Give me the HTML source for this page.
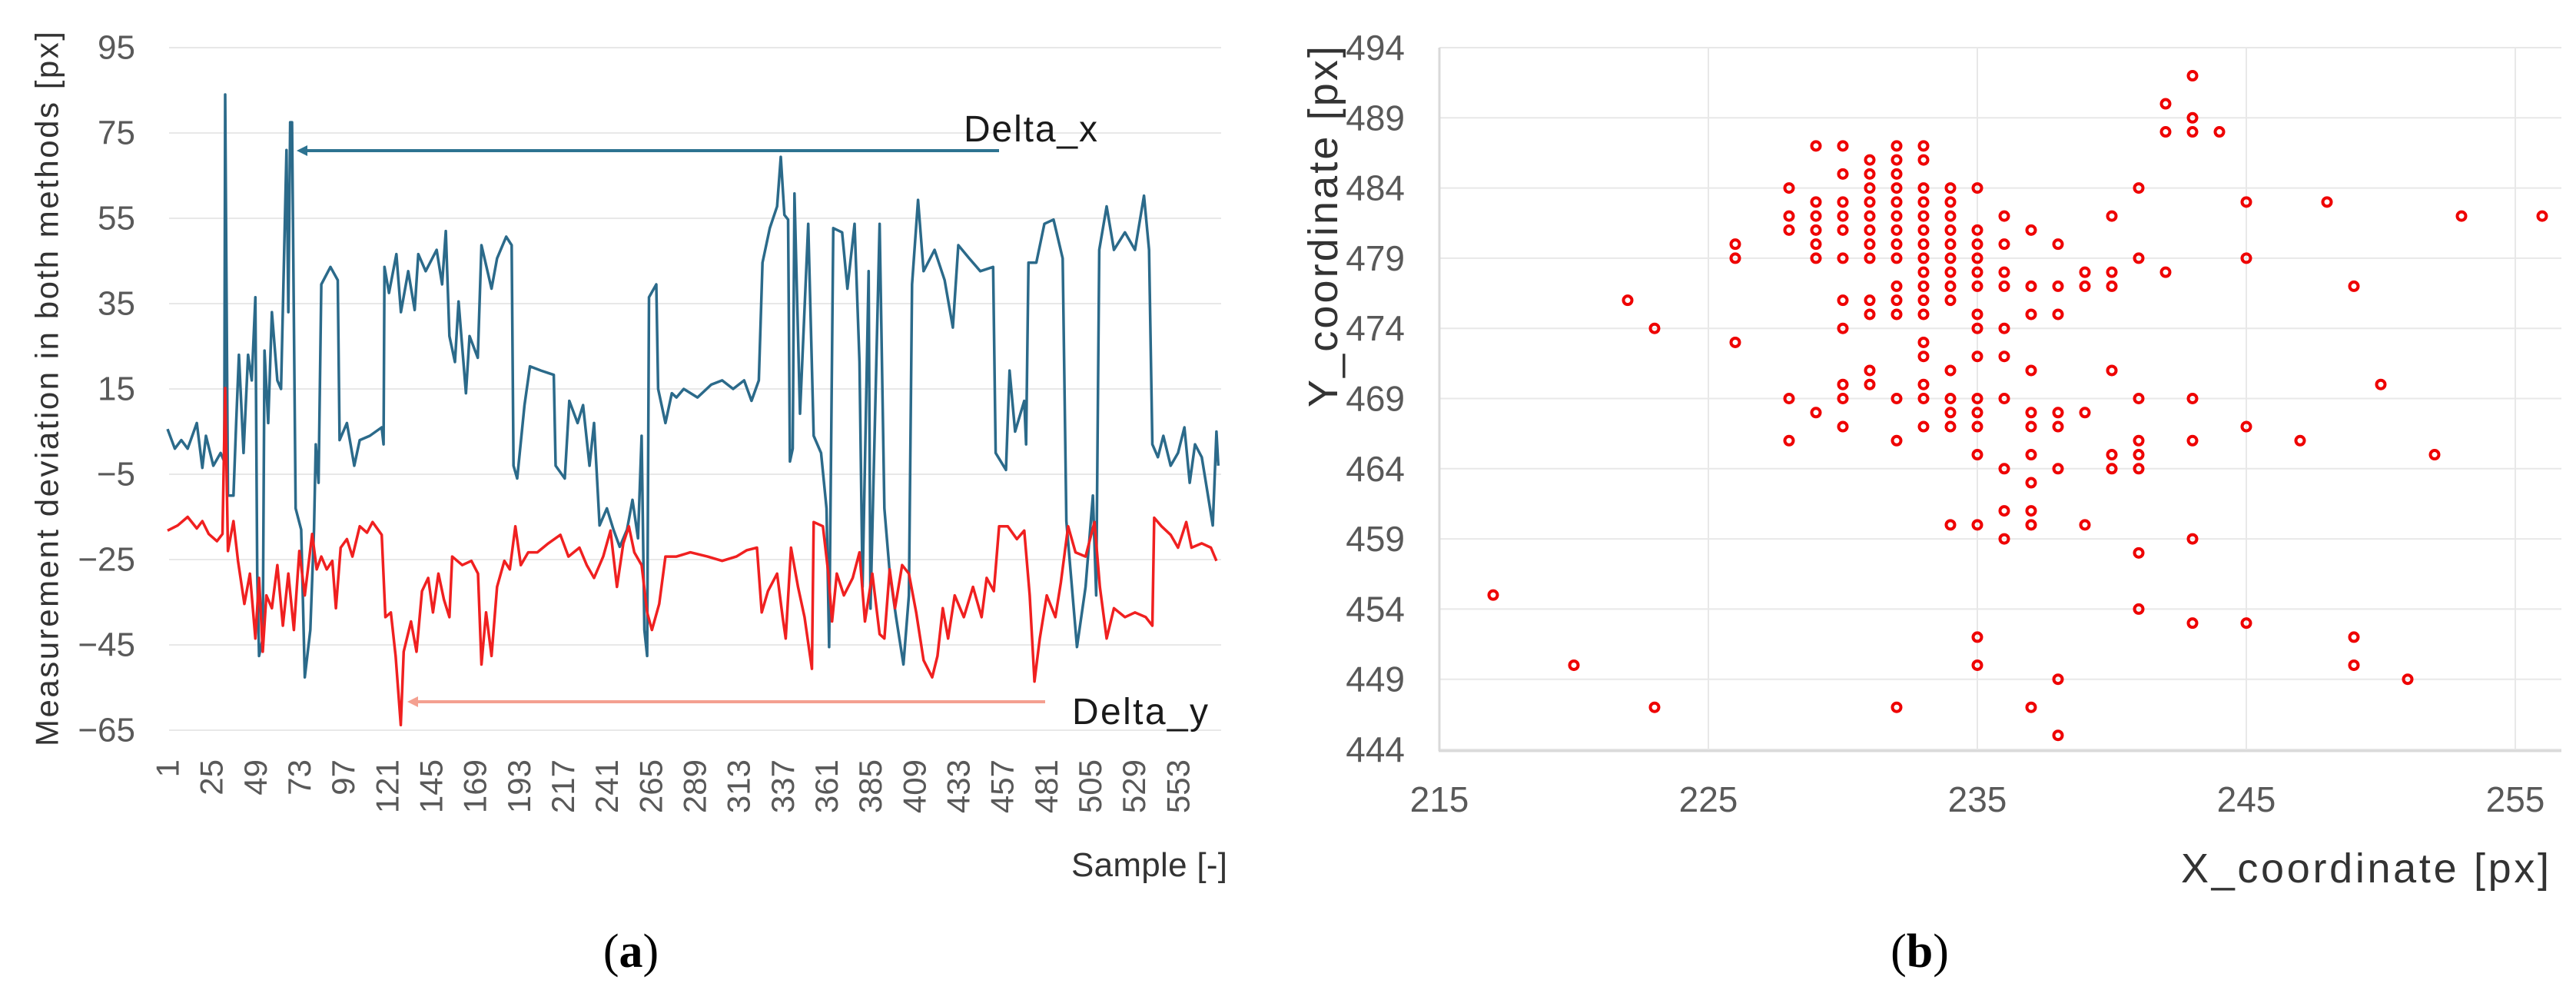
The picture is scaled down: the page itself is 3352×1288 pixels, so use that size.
<!DOCTYPE html>
<html><head><meta charset="utf-8"><style>
html,body{margin:0;padding:0;background:#fff;}
svg{display:block;font-family:"Liberation Sans",sans-serif;}
</style></head><body>
<svg id="fig" width="3352" height="1288" viewBox="0 0 3352 1288">
<g id="left"></g>
<g id="right"></g>
<text x="821" y="1258" font-family="Liberation Serif,serif" font-size="62" text-anchor="middle" fill="#000">(<tspan font-weight="bold">a</tspan>)</text>
<text x="2498" y="1258" font-family="Liberation Serif,serif" font-size="62" text-anchor="middle" fill="#000">(<tspan font-weight="bold">b</tspan>)</text>
</svg>
<script>
// ---- Left chart data ----
const yTicksL = [95, 75, 55, 35, 15, -5, -25, -45, -65];
const xTickLabels = [1,25,49,73,97,121,145,169,193,217,241,265,289,313,337,361,385,409,433,457,481,505,529,553];
const dxSamples = [1,5,8.5,12,17,20,22,26,30,32,32.5,34,37,38.5,40,42.5,45,47,49,50,51,53,54,56,58,61,63,66,67,68,69,71,74,76,79,81,82,83.5,85,90,94,95,99,103,106,111.5,118,119,119.5,122,126,128.5,132.5,136,138,142,148,151,153,155,158,160,164,166,170.5,172.5,178,181,186,189,190,192,196,199,205,212,213,218,220.5,225,228,231.5,234,237,241,244.6,248,252,255,258,260,261.5,263,264,268,269,273,276.5,279,283,290.5,298,304,310,316,320,324,326,330,334,336,338,340,341,342.5,343.5,346.5,351,354,358,361,362.4,364.7,369.5,372.4,376.3,379,380.7,384,385,390,392.6,395.5,399,403,406,407.7,411,414,420,425.5,430,433,439,445,452,453.4,459,461,464,469,470,471.3,475.6,480,485,490,492,497.8,502.5,506.5,508.3,510,514,518,524,529.5,534.4,537.2,539,542,545,549,553,556.5,559.4,562.3,566,569,572,574,575];
const dxValues = [5.6,1,3,1,7,-3.5,4,-3,0,-2,84,-10,-10,7,23,0,23,17,36.5,-28,-47.6,-43.5,24,7,33,17,15,71,33,77.5,77.5,-13,-18,-52.6,-41.5,-18,2,-7,39.5,43.6,40.5,3,7,-3,3,4,6,2,43.6,37.5,46.6,33,42.6,33.5,46.6,42.6,47.6,39.5,52,27.4,21.3,35.5,14,27.4,22.3,48.7,38.5,45.6,50.7,48.7,-3,-6,11.2,20.3,19.3,18.3,-3,-6,12.2,7,11.2,-3,7,-17,-13,-18,-22,-18,-11,-20,4,-41.5,-47.6,36.5,39.5,15,7,14,13,15,13,16,17,15,17,12.2,17,44.6,52.7,57.8,69.4,55.8,54.7,-2,1,60.8,9.2,53.7,4,0,-13,-45.5,52.7,51.7,38.5,53.7,21.3,-31.4,42.6,-36.5,53.7,-13,-28,-38.5,-49.6,-33.4,39.5,59.3,42.6,47.6,40.5,29.4,48.7,45.6,42.6,43.6,0,-4,19.3,5,12.2,2,44.6,44.6,53.7,54.7,45.6,-16,-45.5,-31.4,-10,-33.4,47.6,57.8,47.6,51.7,47.6,60.3,47.6,2,-1,4,-3,0,6,-7,2,-1,-9,-17,5,-3];
const dySamples = [1,6.6,12,17,20,23.5,28,31,32.5,34,37,39.5,43,46,49,51,53,55,58,61,64,67,70,73,76,80,82.5,85,88,91,93,95.6,99,102,106,110,113,118,120,123,125.6,128.4,130,134,137,140,143.4,146,149,152,155,156.5,162,167,170.6,172.5,175,178,181,185,188,191,194,198,203,209,215.6,220,226,230,234,239,243,246.5,250,253,256,260,263,265.6,269.6,273,279,286.6,296,304,311.7,317.5,323,325.6,329,334,337,338.7,341.6,345.4,349,353,354,359,362,364,366.6,370.5,375.3,379,382,386,390,392.6,395.5,398.4,402.3,406,410,414,418.7,421.6,424.5,427.4,431,436,441,445.7,448.5,452.4,455.3,460,465,469,472,474.6,477.5,481.3,486,489,493,497,502.5,507.4,510.3,514,518,524,529.5,535.4,539,540,544,549,553,557.5,560.4,566,571,574];
const dyValues = [-18.2,-17,-15,-17.7,-16,-19,-20.7,-19,15.2,-23,-16,-25.3,-35.4,-28.3,-43.5,-29.3,-46.6,-33.4,-36.4,-26.3,-40.5,-28.3,-41.5,-23,-33.4,-19,-27.3,-24.3,-27.3,-25.3,-36.4,-22.2,-20.2,-24.3,-17.2,-18.7,-16.2,-19.2,-38.5,-37.4,-47.6,-63.8,-46.6,-39.5,-46.6,-32.4,-29.3,-37.4,-28.3,-34.4,-38.5,-24.3,-26.3,-25.3,-28.3,-49.6,-37.4,-47.6,-31.4,-25.3,-27.3,-17.2,-26.3,-23.3,-23.3,-21.2,-19.2,-24.3,-22.2,-26.3,-29.3,-24.3,-18.2,-31.4,-21.2,-17.2,-23.3,-26.3,-37.4,-41.5,-35.4,-24.3,-24.3,-23.3,-24.3,-25.3,-24.3,-22.8,-22.2,-37.4,-32.4,-28.3,-38.5,-43.5,-22.2,-31.4,-38.5,-50.6,-16.2,-17.2,-28.3,-39.5,-28.3,-33.4,-29.3,-23.3,-39.5,-28.3,-42.5,-43.5,-27.3,-36.4,-26.3,-28.3,-37.4,-48.6,-52.6,-47.6,-36.4,-43.5,-33.4,-38.5,-31.4,-38.5,-29.3,-32.4,-17.2,-17.2,-20.2,-18.2,-33.4,-53.6,-43.5,-33.4,-38.5,-30.4,-17.2,-23.3,-24.3,-16.2,-31.4,-43.5,-36.4,-38.5,-37.4,-38.5,-40.5,-15.2,-17.2,-19.2,-22.2,-16.2,-22.2,-21.2,-22.2,-25.3];

// ---- Right chart data ----
const xTicksR = [215, 225, 235, 245, 255];
const yTicksR = [494, 489, 484, 479, 474, 469, 464, 459, 454, 449, 444];
const ptX = [217,220,222,223,223,226,226,226,228,228,228,228,228,229,229,229,229,229,229,229,
230,230,230,230,230,230,230,230,230,230,230,
231,231,231,231,231,231,231,231,231,231,231,231,
232,232,232,232,232,232,232,232,232,232,232,232,232,232,232,
233,233,233,233,233,233,233,233,233,233,233,233,233,233,233,233,233,
234,234,234,234,234,234,234,234,234,234,234,234,234,234,
235,235,235,235,235,235,235,235,235,235,235,235,235,235,235,235,
236,236,236,236,236,236,236,236,236,236,
237,237,237,237,237,237,237,237,237,237,237,
238,238,238,238,238,238,238,238,
239,239,239,239,240,240,240,240,240,240,
241,241,241,241,241,241,241,241,242,242,242,
243,243,243,243,243,243,243,244,245,245,245,245,247,248,249,249,249,250,251,252,253,256];
const ptY = [455,450,476,474,447,480,479,473,484,482,481,469,466,487,483,482,481,480,479,468,
487,485,483,482,481,479,476,474,470,469,467,
486,485,484,483,482,481,480,479,476,475,471,470,
487,486,485,484,483,482,481,480,479,477,476,475,469,466,447,
487,486,484,483,482,481,480,479,478,477,476,475,473,472,470,469,467,
484,483,482,481,480,479,478,477,476,471,469,468,467,460,
484,481,480,479,478,477,475,474,472,469,468,467,465,460,452,450,
482,480,478,477,474,472,469,464,461,459,
481,477,475,471,468,467,465,463,461,460,447,
480,477,475,468,467,464,449,445,
478,477,468,460,482,478,477,471,465,464,
484,479,469,466,465,464,458,454,490,488,478,
492,489,488,469,466,459,453,488,483,479,467,453,466,483,477,452,450,470,449,465,482,482];

const NS = 'http://www.w3.org/2000/svg';
function mk(tag, attrs, parent, txt) {
  const e = document.createElementNS(NS, tag);
  for (const k in attrs) e.setAttribute(k, attrs[k]);
  if (txt !== undefined) e.textContent = txt;
  parent.appendChild(e);
  return e;
}

// ===== Left chart =====
const L = document.getElementById('left');
const xL = s => 218 + (s - 1) * 2.382;
const yL = v => 62 + (95 - v) * 5.55;
yTicksL.forEach(v => {
  const g = mk('line', {x1: 220, x2: 1589, y1: yL(v), y2: yL(v), stroke: '#e8e8e8', 'stroke-width': 2}, L);
  
  
  const t = mk('text', {x: 176, y: yL(v), 'text-anchor': 'end', 'dominant-baseline': 'central', 'font-size': 44, fill: '#595959'}, L, v < 0 ? '\u2212' + Math.abs(v) : String(v));
  
  
});
xTickLabels.forEach(s => {
  const t = mk('text', {x: 0, y: 0, 'text-anchor': 'end', 'dominant-baseline': 'central', 'font-size': 42, fill: '#595959', transform: 'translate(' + xL(s) + ',988) rotate(-90)'}, L, String(s));
  
  
});
function linePath(xs, vs) {
  return xs.map((s, i) => (i ? 'L' : 'M') + xL(s).toFixed(1) + ',' + yL(vs[i]).toFixed(1)).join('');
}
const pb = mk('path', {d: linePath(dxSamples, dxValues), fill: 'none', stroke: '#2b6a8a', 'stroke-width': 3.5, 'stroke-linejoin': 'round'}, L);


const pr = mk('path', {d: linePath(dySamples, dyValues), fill: 'none', stroke: '#f02020', 'stroke-width': 3.5, 'stroke-linejoin': 'round'}, L);



// annotation arrows
const a1 = mk('line', {x1: 1300, y1: 196, x2: 392, y2: 196, stroke: '#2d7391', 'stroke-width': 4}, L);


const h1 = mk('path', {d: 'M386,196 L400,189 L400,203 Z', fill: '#2d7391'}, L);


const a2 = mk('line', {x1: 1360, y1: 913, x2: 536, y2: 913, stroke: '#f4a090', 'stroke-width': 4}, L);


const h2 = mk('path', {d: 'M530,913 L544,906 L544,920 Z', fill: '#f4a090'}, L);


const tdx = mk('text', {x: 1254, y: 184, 'font-size': 48, fill: '#1a1a1a', textLength: 174}, L, 'Delta_x');


const tdy = mk('text', {x: 1395, y: 942, 'font-size': 48, fill: '#1a1a1a', textLength: 177}, L, 'Delta_y');


const ytl = mk('text', {x: 0, y: 0, 'text-anchor': 'middle', 'dominant-baseline': 'central', 'font-size': 42, fill: '#333', textLength: 930, transform: 'translate(61,506) rotate(-90)'}, L, 'Measurement deviation in both methods [px]');


const xtl = mk('text', {x: 1394, y: 1140, 'font-size': 44, fill: '#333', textLength: 203}, L, 'Sample [-]');



// ===== Right chart =====
const R = document.getElementById('right');
const xR = v => 1873 + (v - 215) * 35;
const yR = v => 62 + (494 - v) * 18.26;
xTicksR.forEach(v => {
  const g = mk('line', {x1: xR(v), x2: xR(v), y1: 62, y2: 977, stroke: '#e8e8e8', 'stroke-width': 2}, R);
  
  
  const t = mk('text', {x: xR(v), y: 1040, 'text-anchor': 'middle', 'dominant-baseline': 'central', 'font-size': 46, fill: '#595959'}, R, String(v));
  
  
});
yTicksR.forEach(v => {
  const g = mk('line', {x1: 1873, x2: 3333, y1: yR(v), y2: yR(v), stroke: '#e8e8e8', 'stroke-width': 2}, R);
  
  
  const t = mk('text', {x: 1828, y: yR(v), 'text-anchor': 'end', 'dominant-baseline': 'central', 'font-size': 46, fill: '#595959'}, R, String(v));
  
  
});
const ax1 = mk('line', {x1: 1873, x2: 1873, y1: 62, y2: 977, stroke: '#d9d9d9', 'stroke-width': 3}, R);


const ax2 = mk('line', {x1: 1872, x2: 3333, y1: 977, y2: 977, stroke: '#d9d9d9', 'stroke-width': 3}, R);


ptX.forEach((xv, i) => {
  const c = mk('circle', {cx: xR(xv), cy: yR(ptY[i]), r: 5.5, fill: 'none', stroke: '#ee0000', 'stroke-width': 4}, R);
  
  
});
const ytr = mk('text', {x: 0, y: 0, 'text-anchor': 'end', 'dominant-baseline': 'central', 'font-size': 54, fill: '#333', textLength: 470, transform: 'translate(1722,60) rotate(-90)'}, R, 'Y_coordinate [px]');


const xtr = mk('text', {x: 2838, y: 1148, 'font-size': 54, fill: '#333', textLength: 479}, R, 'X_coordinate [px]');


</script>
</body></html>
